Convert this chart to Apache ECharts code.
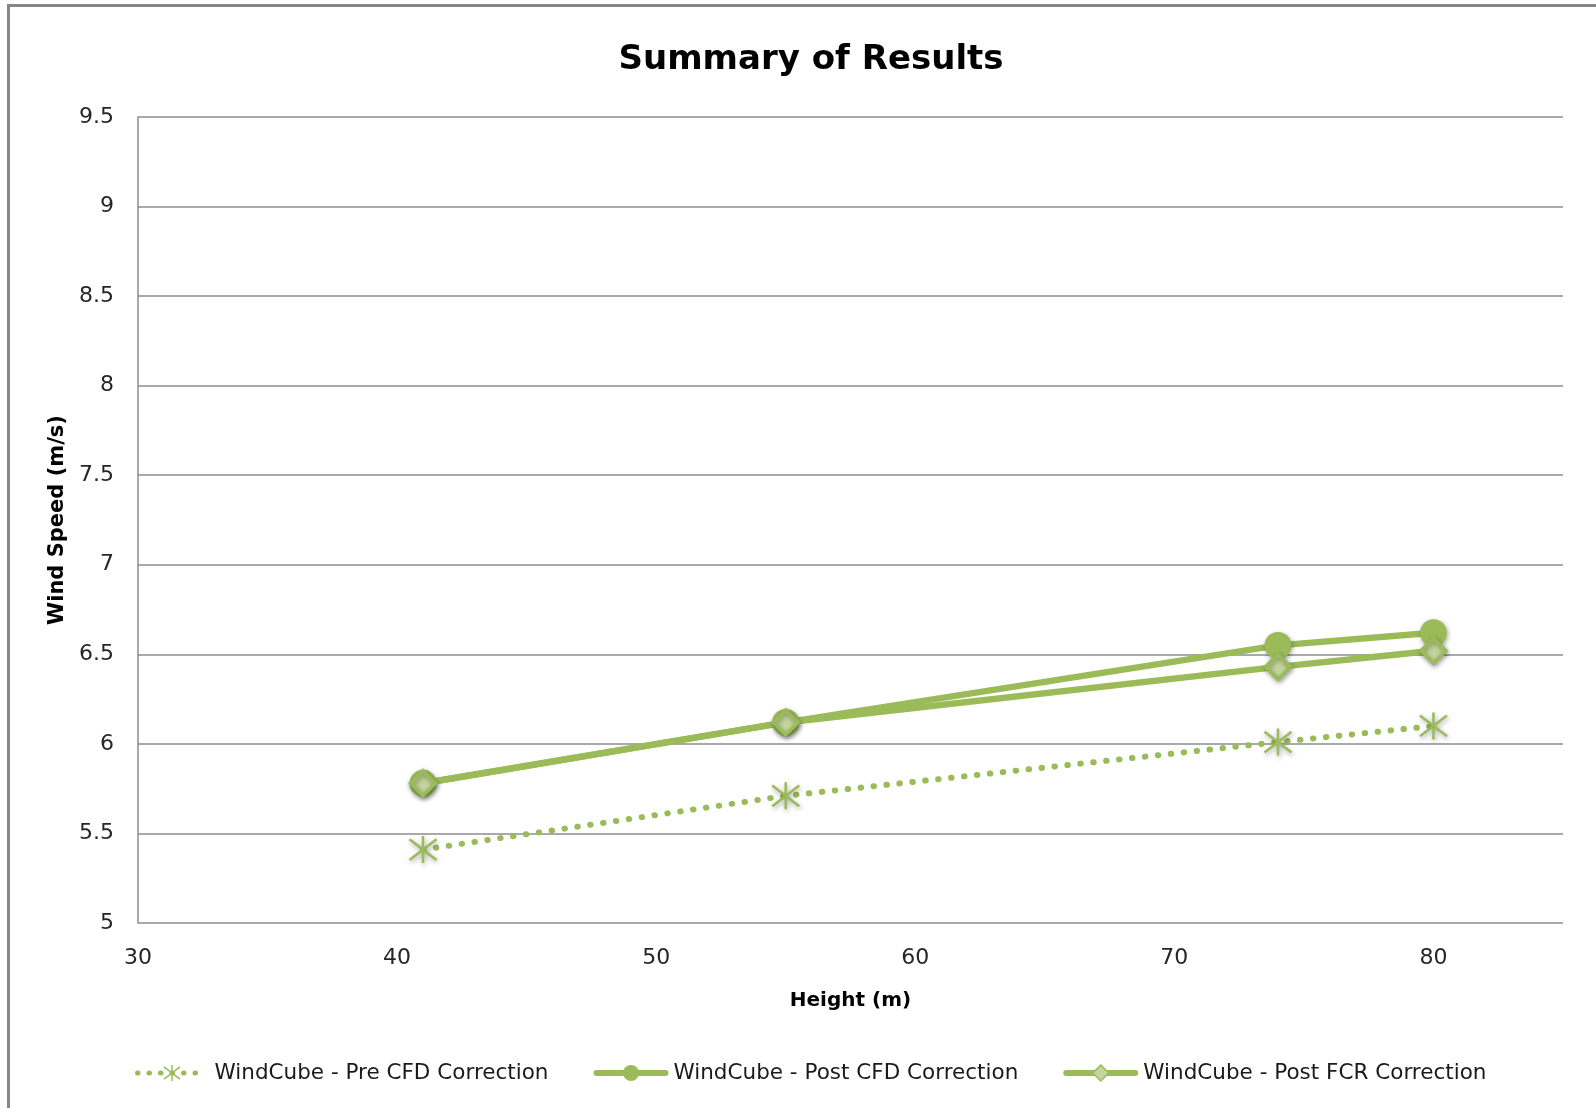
<!DOCTYPE html>
<html>
<head>
<meta charset="utf-8">
<title>Summary of Results</title>
<script src="https://cdn.jsdelivr.net/npm/echarts@6/dist/echarts.min.js"></script>
<style>
  html, body { margin: 0; padding: 0; background: #fff; }
  #chart { width: 1596px; height: 1108px; }
</style>
</head>
<body>
<div id="chart"></div>
<script>
// Measurement heights (m)
const heights = [41, 55, 74, 80];

// Wind speed (m/s) per correction stage
const preCfd = [5.41, 5.71, 6.01, 6.10];
const postCfd = [5.78, 6.12, 6.55, 6.62];
const postFcr = [5.78, 6.12, 6.43, 6.52];

const seriesNames = [
  'WindCube - Pre CFD Correction',
  'WindCube - Post CFD Correction',
  'WindCube - Post FCR Correction'
];

const GREEN = '#9BBB59';
const LIGHT_GREEN = '#C3D69B';
const FONT = 'DejaVu Sans';
const STAR = 'path://M0,0L10,10M10,0L0,10M5,-1.5L5,11.5';
const DOTS = [0.5, 12.5];

const pairs = vals => heights.map((h, i) => [h, vals[i]]);

const markerShadow = {
  shadowBlur: 5,
  shadowColor: 'rgba(0,0,0,0.35)',
  shadowOffsetX: 1,
  shadowOffsetY: 2
};

const chart = echarts.init(document.getElementById('chart'), null, { renderer: 'canvas' });

chart.setOption({
  backgroundColor: '#ffffff',
  animation: false,
  title: {
    text: 'Summary of Results',
    left: 806,
    top: 38,
    textAlign: 'center',
    textStyle: { fontFamily: FONT, fontWeight: 'bold', fontSize: 34, color: '#000' }
  },
  legend: {
    bottom: 19,
    left: 130,
    itemWidth: 69,
    itemHeight: 20,
    itemGap: 45,
    textStyle: { fontFamily: FONT, fontSize: 21.5, color: '#1a1a1a', padding: [0, 0, 0, 3] },
    data: [
      {
        name: seriesNames[0],
        lineStyle: { width: 5, type: [0.5, 11], cap: 'round', color: GREEN },
        itemStyle: { color: GREEN, borderColor: GREEN, borderWidth: 1.5 }
      },
      {
        name: seriesNames[1],
        lineStyle: { width: 6, color: GREEN, cap: 'round' },
        itemStyle: { color: GREEN, borderWidth: 0 }
      },
      {
        name: seriesNames[2],
        lineStyle: { width: 6, color: GREEN, cap: 'round' },
        itemStyle: { color: LIGHT_GREEN, borderColor: GREEN, borderWidth: 1.5 }
      }
    ]
  },
  grid: { left: 138, right: 33, top: 117, bottom: 185, containLabel: false },
  xAxis: {
    type: 'value',
    min: 30,
    max: 85,
    interval: 10,
    name: 'Height (m)',
    nameLocation: 'middle',
    nameGap: 68,
    nameTextStyle: { fontFamily: FONT, fontWeight: 'bold', fontSize: 20, color: '#000' },
    axisLine: { show: false },
    axisTick: { show: false },
    splitLine: { show: false },
    axisLabel: {
      margin: 24,
      fontFamily: FONT,
      fontSize: 22,
      color: '#262626',
      formatter: v => (v > 80 ? '' : String(v))
    }
  },
  yAxis: {
    type: 'value',
    min: 5,
    max: 9.5,
    interval: 0.5,
    name: 'Wind Speed (m/s)',
    nameLocation: 'middle',
    nameGap: 68,
    nameTextStyle: { fontFamily: FONT, fontWeight: 'bold', fontSize: 21, color: '#000' },
    axisLine: { show: true, lineStyle: { color: '#8c8c8c', width: 1.5 } },
    axisTick: { show: false },
    splitLine: { show: true, lineStyle: { color: '#8c8c8c', width: 1.5 } },
    axisLabel: { margin: 24, fontFamily: FONT, fontSize: 22, color: '#262626' }
  },
  graphic: [
    {
      type: 'polyline',
      silent: true,
      shape: { points: [[8.5, 1108], [8.5, 5.5], [1596, 5.5]] },
      style: { stroke: '#878787', lineWidth: 3, fill: null }
    }
  ],
  series: [
    {
      name: seriesNames[0],
      type: 'line',
      data: pairs(preCfd),
      symbol: STAR,
      symbolSize: 27,
      itemStyle: Object.assign({ color: GREEN, borderColor: GREEN, borderWidth: 2.5 }, markerShadow),
      lineStyle: { color: GREEN, width: 6, type: DOTS, cap: 'round' },
      z: 2
    },
    {
      name: seriesNames[1],
      type: 'line',
      data: pairs(postCfd),
      symbol: 'circle',
      symbolSize: 27,
      itemStyle: Object.assign({ color: GREEN, borderColor: GREEN, borderWidth: 0 }, markerShadow),
      lineStyle: { color: GREEN, width: 6.5 },
      z: 3
    },
    {
      name: seriesNames[2],
      type: 'line',
      data: pairs(postFcr),
      symbol: 'diamond',
      symbolSize: 25,
      itemStyle: Object.assign({ color: LIGHT_GREEN, borderColor: GREEN, borderWidth: 3.5 }, markerShadow),
      lineStyle: { color: GREEN, width: 6.5 },
      z: 4
    }
  ]
});
</script>
</body>
</html>
